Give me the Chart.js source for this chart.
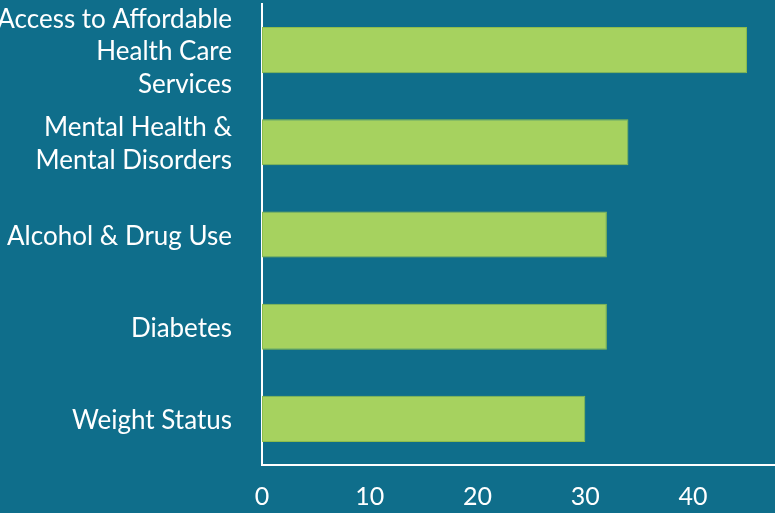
<!DOCTYPE html>
<html>
<head>
<meta charset="utf-8">
<script src="https://cdn.jsdelivr.net/npm/chart.js@4/dist/chart.umd.min.js"></script>
<style>
  html, body { margin: 0; padding: 0; background: #0f6e8b; }
  #wrap { width: 775px; height: 513px; position: relative; }
</style>
</head>
<body>
<div id="wrap"><canvas id="bars"></canvas></div>
<script>
// Health needs ranking: horizontal bars
const categories = [
    ['Access to Affordable', 'Health Care', 'Services'],
    ['Mental Health &', 'Mental Disorders'],
    'Alcohol & Drug Use',
    'Diabetes',
    'Weight Status'
];
const values = [45, 34, 32, 32, 30];
const xTicks = [0, 10, 20, 30, 40];

const ctx = document.getElementById('bars').getContext('2d');
new Chart(ctx, {
    type: 'bar',
    data: {
        labels: categories,
        datasets: [{
            data: values,
            backgroundColor: '#a6d25f',
            borderColor: '#8dbd4c',
            borderWidth: 1,
            borderSkipped: false,
            categoryPercentage: 1,
            barPercentage: 0.5
        }]
    },
    options: {
        indexAxis: 'y',
        responsive: true,
        maintainAspectRatio: false,
        animation: false,
        layout: { padding: { top: 4, right: 0, left: 0, bottom: 0 } },
        plugins: { legend: { display: false }, tooltip: { enabled: false } },
        scales: {
            x: {
                min: 0,
                max: 47.6,
                afterBuildTicks: (s) => { s.ticks = xTicks.map(v => ({ value: v })); },
                afterFit: (s) => { s.height = 48; s.paddingLeft = 0; s.paddingRight = 0; },
                grid: { display: false, drawTicks: false },
                border: { display: true, color: '#ffffff', width: 2 },
                ticks: { color: '#ffffff', padding: 17, font: { family: 'Lato', size: 25 } }
            },
            y: {
                afterFit: (s) => { s.width = 262; s.paddingTop = 0; s.paddingBottom = 0; },
                grid: { display: false, drawTicks: false },
                border: { display: true, color: '#ffffff', width: 2 },
                ticks: { color: '#ffffff', padding: 30, autoSkip: false, labelOffset: 2, font: { family: 'Lato', size: 26, lineHeight: 1.25 } }
            }
        }
    }
});
</script>
</body>
</html>
